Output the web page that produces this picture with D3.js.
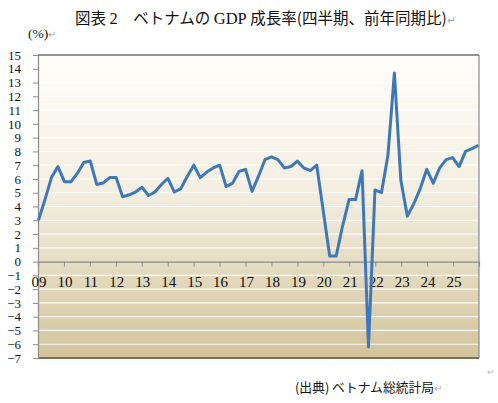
<!DOCTYPE html>
<html>
<head>
<meta charset="utf-8">
<script src="https://cdn.jsdelivr.net/npm/d3@7"></script>
<style>
  body { margin: 0; background: #fff; }
  svg { display: block; }
</style>
</head>
<body>
<div id="chart"></div>
<script>
// Quarterly GDP growth, y/y % (2009Q1 .. 2025Q4)
var growth = [
  3.0, 4.5, 6.1, 6.9,
  5.8, 5.8, 6.4, 7.2, 7.3,
  5.6, 5.7, 6.1, 6.1,
  4.7, 4.85, 5.05, 5.4,
  4.8, 5.05, 5.6, 6.05,
  5.05, 5.3, 6.2, 7.0,
  6.1, 6.5, 6.8, 7.0,
  5.45, 5.7, 6.55, 6.7,
  5.1, 6.2, 7.4, 7.6,
  7.4, 6.8, 6.9, 7.3,
  6.8, 6.6, 7.0, 3.7,
  0.4, 0.4, 2.6, 4.5,
  4.5, 6.6, -6.2, 5.2,
  5.0, 7.7, 13.7, 5.9,
  3.3, 4.2, 5.3, 6.7,
  5.7, 6.8, 7.4, 7.55,
  6.9, 8.0, 8.2, 8.45
];
var yearLabels = ["09", "10", "11", "12", "13", "14", "15", "16", "17",
                  "18", "19", "20", "21", "22", "23", "24", "25"];
var yTicks = d3.range(-7, 16);

// title pieces: [text, latin?]
var titleParts = [["図表 ", false], ["2", true], ["\u3000ベトナムの ", false],
                  ["GDP", true], [" 成長率(四半期、前年同期比)", false]];
var unitText = "(%)";
var sourceText = "(出典) ベトナム総統計局";

var W = 498, H = 403;
var m = {left: 38, right: 479, top: 55, bottom: 358};
var serif = "'Liberation Serif', 'Times New Roman', serif";
var jp = "'Noto Sans CJK JP', sans-serif";

var svg = d3.select("#chart").append("svg")
    .attr("width", W)
    .attr("height", H);

// background gradient of the plot area
var grad = svg.append("defs").append("linearGradient")
    .attr("id", "bg")
    .attr("x1", 0).attr("y1", 0).attr("x2", 0).attr("y2", 1);
grad.append("stop").attr("offset", "0%").attr("stop-color", "#fffefb");
grad.append("stop").attr("offset", "45%").attr("stop-color", "#f3eee0");
grad.append("stop").attr("offset", "100%").attr("stop-color", "#d3c49c");

var y = d3.scaleLinear().domain([-7, 15]).range([m.bottom, m.top]);
var x = d3.scaleLinear().domain([0, growth.length - 1]).range([m.left + 0.5, m.right - 0.5]);
var xYear = d3.scaleLinear().domain([0, yearLabels.length]).range([m.left, m.right]);

svg.append("rect")
    .attr("x", m.left).attr("y", m.top)
    .attr("width", m.right - m.left).attr("height", m.bottom - m.top)
    .style("fill", "url(#bg)");

// horizontal gridlines
svg.append("g")
    .selectAll("line")
    .data(yTicks.filter(function(d) { return d > -7 && d < 15 && d !== 0; }))
    .enter().append("line")
    .attr("x1", m.left).attr("x2", m.right)
    .attr("y1", function(d) { return y(d); })
    .attr("y2", function(d) { return y(d); })
    .style("stroke", "#ffffff")
    .style("stroke-width", 1.2)
    .style("opacity", 0.9);

// frame
svg.append("line")
    .attr("x1", m.left).attr("x2", m.right).attr("y1", m.top).attr("y2", m.top)
    .style("stroke", "#6f6f6f").style("stroke-width", 1.5);
svg.append("line")
    .attr("x1", m.right).attr("x2", m.right).attr("y1", m.top).attr("y2", m.bottom)
    .style("stroke", "#8a8a8a").style("stroke-width", 1.2);
svg.append("line")
    .attr("x1", m.left).attr("x2", m.right).attr("y1", m.bottom).attr("y2", m.bottom)
    .style("stroke", "#7b6f58").style("stroke-width", 2);

// y axis
var yAxis = svg.append("g")
    .attr("transform", "translate(" + m.left + ",0)")
    .call(d3.axisLeft(y).tickValues(yTicks).tickSize(5).tickPadding(12));
yAxis.select(".domain").style("stroke", "#8c8c8c").style("stroke-width", 1.2);
yAxis.selectAll(".tick line").style("stroke", "#8c8c8c");
yAxis.selectAll("text")
    .style("font-family", serif)
    .style("font-size", "13px")
    .style("fill", "#111");

// zero line with year ticks
var xAxis = svg.append("g")
    .attr("transform", "translate(0," + y(0) + ")")
    .call(d3.axisBottom(xYear)
      .tickValues(d3.range(0, yearLabels.length + 1))
      .tickSize(5)
      .tickFormat(""));
xAxis.select(".domain").style("stroke", "#8c8c8c").style("stroke-width", 1.2);
xAxis.selectAll(".tick line").style("stroke", "#8c8c8c");

svg.append("g")
    .selectAll("text")
    .data(yearLabels)
    .enter().append("text")
    .attr("x", function(d, i) { return xYear(i) + 1; })
    .attr("y", y(0) + 20)
    .attr("dy", "0.35em")
    .attr("text-anchor", "middle")
    .style("font-family", serif)
    .style("font-size", "15px")
    .style("fill", "#111")
    .text(function(d) { return d; });

// growth line
var line = d3.line()
    .x(function(d, i) { return x(i); })
    .y(function(d) { return y(d); });
svg.append("path")
    .datum(growth)
    .attr("d", line)
    .style("fill", "none")
    .style("stroke", "#3f78ba")
    .style("stroke-width", 3)
    .style("stroke-linejoin", "round");

// texts
var title = svg.append("text")
    .attr("x", 75).attr("y", 24)
    .style("font-size", "15.5px")
    .style("fill", "#111");
title.selectAll("tspan.part")
    .data(titleParts)
    .enter().append("tspan")
    .attr("class", "part")
    .style("font-family", function(d) { return d[1] ? serif : jp; })
    .style("font-size", function(d) { return d[1] ? "16.5px" : "15.5px"; })
    .text(function(d) { return d[0]; });
title.append("tspan").style("fill", "#aaa").style("font-size", "11px").text("\u21b5");

var unit = svg.append("text")
    .attr("x", 28).attr("y", 38)
    .style("font-family", serif)
    .style("font-size", "13.5px")
    .style("fill", "#111")
    .text(unitText);
unit.append("tspan").style("fill", "#aaa").style("font-size", "10px").text("\u21b5");

var src = svg.append("text")
    .attr("x", 295).attr("y", 392)
    .style("font-family", jp)
    .style("font-size", "12.8px")
    .style("fill", "#111")
    .text(sourceText);
src.append("tspan").style("fill", "#aaa").style("font-size", "10px").text("\u21b5");

svg.append("text")
    .attr("x", 487).attr("y", 375)
    .style("font-size", "9px")
    .style("fill", "#bbb")
    .text("\u21b5");
</script>
</body>
</html>
